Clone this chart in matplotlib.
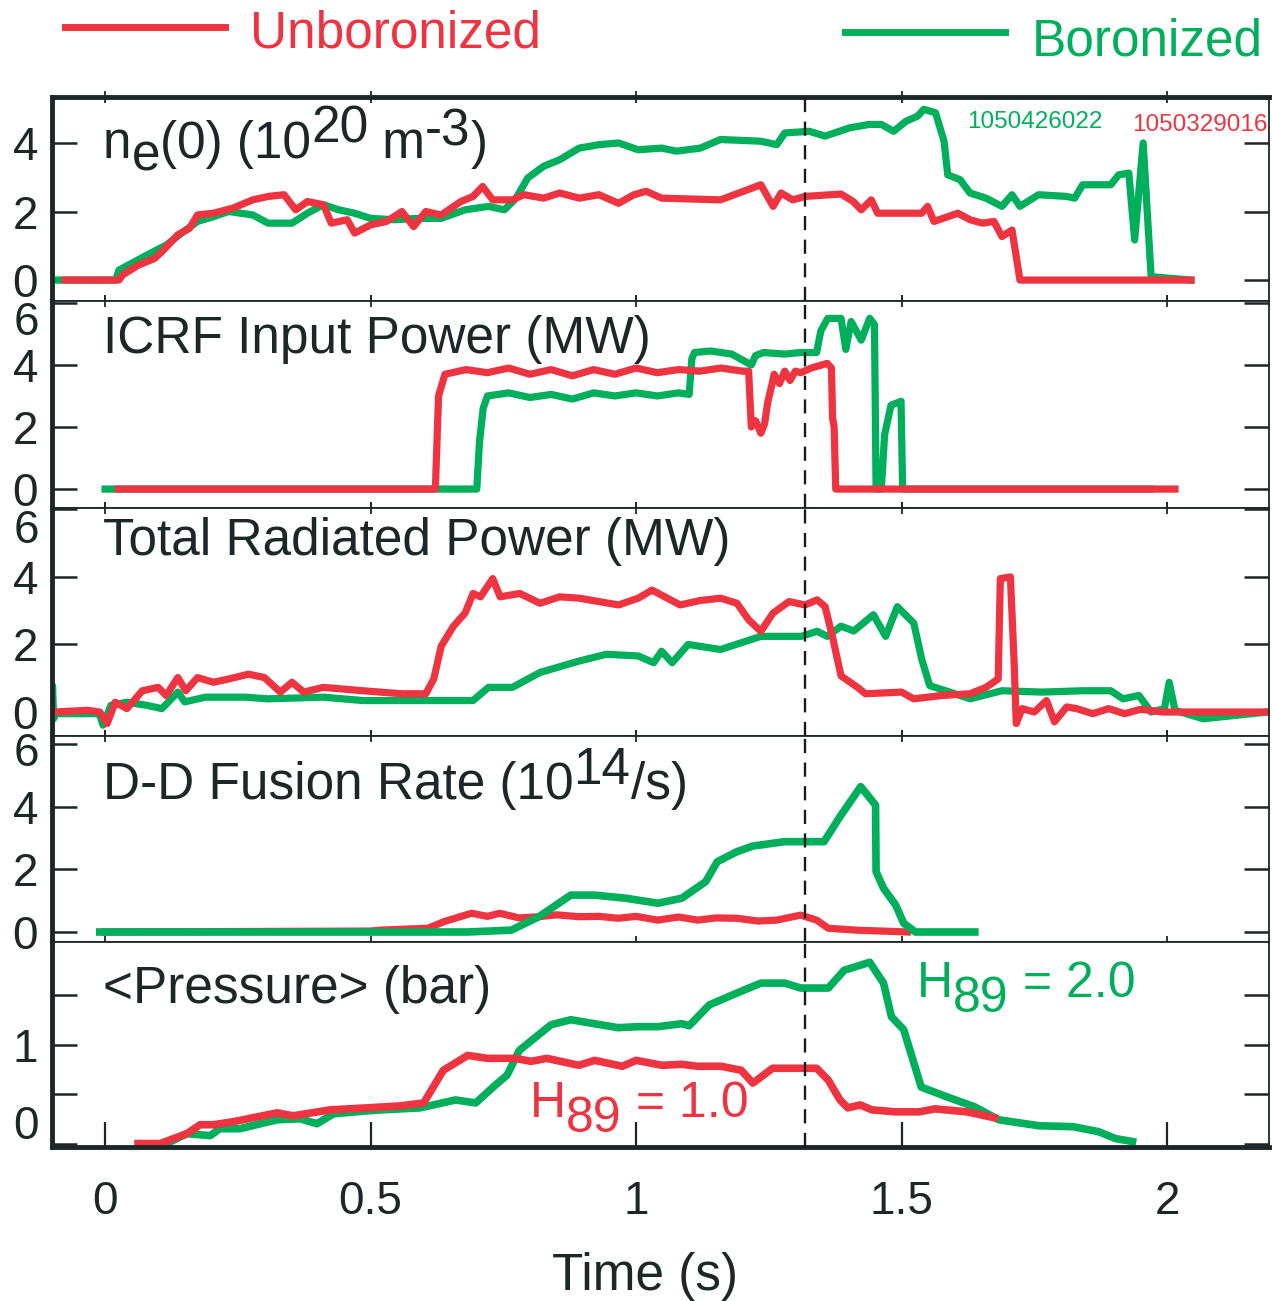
import matplotlib
matplotlib.use("Agg")
import matplotlib.pyplot as plt
from matplotlib.lines import Line2D

plt.rcParams['font.family'] = ['Liberation Sans', 'DejaVu Sans']

RED = '#EE3441'
GREEN = '#00AF5B'
DARK = '#1E2728'

# ---------------- data (time in s) ----------------
# Panel 1: central density n_e(0) (1e20 m^-3)
ne_unb_t = [-0.075, 0.026, 0.033, 0.063, 0.093, 0.107, 0.137, 0.159, 0.174, 0.204, 0.241, 0.278, 0.307,
            0.337, 0.359, 0.381, 0.411, 0.426, 0.456, 0.47, 0.5, 0.53, 0.559, 0.581, 0.604, 0.633, 0.67,
            0.693, 0.711, 0.73, 0.767, 0.789, 0.826, 0.856, 0.893, 0.93, 0.967, 0.996, 1.019, 1.048,
            1.159, 1.235, 1.258, 1.273, 1.295, 1.318, 1.386, 1.409, 1.424, 1.443, 1.455, 1.538, 1.549,
            1.561, 1.606, 1.629, 1.652, 1.674, 1.689, 1.708, 1.723, 2.045]
ne_unb = [0, 0, 0.15, 0.44, 0.63, 0.83, 1.32, 1.51, 1.9, 1.95, 2.1, 2.34, 2.44,
          2.49, 2.05, 2.29, 2.2, 1.66, 1.76, 1.37, 1.61, 1.71, 2.0, 1.56, 2.0, 1.9, 2.29,
          2.44, 2.73, 2.34, 2.34, 2.49, 2.39, 2.54, 2.39, 2.49, 2.24, 2.49, 2.59, 2.39,
          2.34, 2.78, 2.15, 2.54, 2.34, 2.44, 2.51, 2.29, 2.05, 2.34, 1.95, 1.95, 2.15,
          1.71, 1.95, 1.76, 1.66, 1.71, 1.27, 1.46, 0, 0]
ne_bor_t = [-0.1, 0.02, 0.026, 0.056, 0.085, 0.115, 0.144, 0.174, 0.204, 0.233, 0.278, 0.307, 0.352,
            0.381, 0.411, 0.44, 0.47, 0.5, 0.544, 0.589, 0.633, 0.678, 0.722, 0.752, 0.774, 0.796,
            0.826, 0.856, 0.893, 0.93, 0.967, 1.004, 1.048, 1.076, 1.121, 1.159, 1.235, 1.265, 1.28,
            1.326, 1.356, 1.402, 1.439, 1.462, 1.485, 1.508, 1.53, 1.542, 1.564, 1.58, 1.587, 1.61,
            1.629, 1.659, 1.689, 1.708, 1.723, 1.758, 1.811, 1.826, 1.841, 1.894, 1.909, 1.928,
            1.939, 1.955, 1.97, 2.045]
ne_bor = [0, 0, 0.29, 0.54, 0.78, 1.02, 1.37, 1.71, 1.85, 2.0, 1.9, 1.66, 1.66,
          1.95, 2.2, 2.05, 1.95, 1.8, 1.76, 1.8, 1.8, 2.05, 2.15, 2.05, 2.39, 2.98,
          3.32, 3.51, 3.85, 3.95, 4.0, 3.8, 3.85, 3.76, 3.85, 4.1, 4.05, 3.95, 4.29,
          4.34, 4.2, 4.44, 4.54, 4.54, 4.34, 4.63, 4.78, 4.98, 4.88, 4.05, 3.07, 2.93,
          2.54, 2.39, 2.15, 2.49, 2.15, 2.49, 2.44, 2.39, 2.78, 2.78, 3.07, 3.12,
          1.17, 4.0, 0.1, 0]

# Panel 2: ICRF input power (MW)
icrf_unb_t = [0.025, 0.622, 0.628, 0.64, 0.68, 0.72, 0.76, 0.80, 0.84, 0.88, 0.92, 0.96, 1.0, 1.04,
              1.08, 1.12, 1.16, 1.2, 1.212, 1.217, 1.225, 1.235, 1.242, 1.248, 1.255, 1.26, 1.27,
              1.28, 1.29, 1.30, 1.31, 1.33, 1.35, 1.36, 1.368, 1.37, 1.373, 1.376, 2.015]
icrf_unb = [0, 0, 3.0, 3.7, 3.85, 3.75, 3.9, 3.7, 3.85, 3.65, 3.85, 3.7, 3.9, 3.75,
            3.85, 3.8, 3.9, 3.8, 3.8, 2.0, 2.2, 1.8, 2.1, 2.8, 3.3, 3.7, 3.4,
            3.8, 3.5, 3.8, 3.75, 3.9, 4.0, 4.05, 3.9, 2.3, 2.0, 0, 0]
icrf_bor_t = [0.0, 0.70, 0.705, 0.712, 0.72, 0.76, 0.80, 0.84, 0.88, 0.92, 0.96, 1.0, 1.04, 1.08,
              1.10, 1.105, 1.11, 1.14, 1.18, 1.217, 1.225, 1.24, 1.28, 1.31, 1.34, 1.348, 1.361,
              1.386, 1.395, 1.405, 1.424, 1.44, 1.449, 1.452, 1.462, 1.468, 1.48, 1.499, 1.502, 1.97]
icrf_bor = [0, 0, 1.5, 2.6, 3.0, 3.1, 2.95, 3.05, 2.9, 3.1, 3.0, 3.1, 3.0, 3.1,
            3.05, 4.2, 4.4, 4.45, 4.35, 4.0, 4.3, 4.4, 4.35, 4.4, 4.4, 5.1, 5.5,
            5.5, 4.5, 5.4, 4.8, 5.5, 5.3, 0, 0, 1.74, 2.7, 2.83, 0, 0]

# Panel 3: total radiated power (MW)
prad_unb_t = [-0.096, -0.033, -0.01, 0.004, 0.019, 0.041, 0.07, 0.1, 0.115, 0.137, 0.152, 0.174, 0.204,
              0.233, 0.27, 0.3, 0.33, 0.352, 0.374, 0.411, 0.485, 0.559, 0.604, 0.619, 0.633, 0.656,
              0.678, 0.693, 0.707, 0.73, 0.744, 0.781, 0.819, 0.856, 0.893, 0.93, 0.967, 1.004, 1.03,
              1.083, 1.12, 1.159, 1.19, 1.212, 1.235, 1.258, 1.288, 1.318, 1.341, 1.356, 1.371, 1.386,
              1.417, 1.432, 1.5, 1.523, 1.576, 1.629, 1.659, 1.682, 1.686, 1.705, 1.712, 1.716, 1.727,
              1.75, 1.773, 1.788, 1.811, 1.83, 1.86, 1.89, 1.92, 1.95, 1.992, 2.189]
prad_unb = [0, 0.05, 0.0, -0.34, 0.29, 0.1, 0.63, 0.73, 0.49, 1.02, 0.63, 1.02, 0.88,
            0.98, 1.12, 1.02, 0.59, 0.88, 0.59, 0.73, 0.63, 0.54, 0.54, 0.98, 1.95, 2.54,
            2.93, 3.51, 3.41, 3.95, 3.41, 3.51, 3.22, 3.41, 3.37, 3.27, 3.17, 3.37, 3.61,
            3.17, 3.3, 3.37, 3.22, 2.73, 2.39, 2.93, 3.27, 3.17, 3.32, 3.12, 2.15, 1.07,
            0.73, 0.54, 0.59, 0.39, 0.49, 0.54, 0.73, 0.98, 3.95, 4.0, 1.46, -0.34, 0.1,
            0.0, 0.34, -0.29, 0.15, 0.1, -0.05, 0.1, -0.05, 0.08, 0, 0]
prad_bor_t = [-0.1, -0.099, -0.097, -0.093, -0.011, -0.004, 0.011, 0.041, 0.078, 0.107, 0.137, 0.15,
              0.189, 0.263, 0.307, 0.411, 0.485, 0.633, 0.693, 0.722, 0.767, 0.819, 0.893, 0.944,
              1.004, 1.033, 1.048, 1.068, 1.098, 1.159, 1.235, 1.311, 1.341, 1.36, 1.386, 1.41,
              1.447, 1.47, 1.492, 1.523, 1.538, 1.553, 1.583, 1.629, 1.689, 1.765, 1.841, 1.894,
              1.917, 1.947, 1.97, 1.995, 2.004, 2.015, 2.068, 2.189]
prad_bor = [0, 0.78, -0.2, -0.05, -0.05, -0.39, 0.2, 0.29, 0.2, 0.1, 0.59, 0.3,
            0.44, 0.44, 0.39, 0.44, 0.34, 0.34, 0.34, 0.73, 0.73, 1.17, 1.51, 1.71,
            1.66, 1.46, 1.8, 1.46, 2.0, 1.85, 2.24, 2.24, 2.39, 2.24, 2.54, 2.4,
            2.88, 2.24, 3.12, 2.63, 1.56, 0.78, 0.63, 0.39, 0.63, 0.59, 0.63, 0.63,
            0.39, 0.49, 0.0, 0.1, 0.88, 0.05, -0.2, 0]

# Panel 4: D-D fusion rate (1e14 /s)
dd_unb_t = [0.0, 0.5, 0.519, 0.608, 0.638, 0.69, 0.72, 0.743, 0.78, 0.817, 0.85, 0.892, 0.93, 0.966,
            1.0, 1.041, 1.08, 1.116, 1.15, 1.19, 1.23, 1.265, 1.31, 1.34, 1.362, 1.414, 1.511]
dd_unb = [0, 0.03, 0.06, 0.12, 0.33, 0.6, 0.5, 0.6, 0.45, 0.49, 0.55, 0.49, 0.5, 0.44,
          0.5, 0.38, 0.48, 0.38, 0.45, 0.44, 0.35, 0.38, 0.54, 0.38, 0.12, 0.06, 0]
dd_bor_t = [-0.01, 0.683, 0.765, 0.817, 0.877, 0.922, 0.981, 1.041, 1.086, 1.131, 1.153, 1.19, 1.22,
            1.28, 1.354, 1.384, 1.423, 1.451, 1.452, 1.466, 1.489, 1.504, 1.526, 1.638]
dd_bor = [0, 0, 0.06, 0.49, 1.18, 1.18, 1.08, 0.92, 1.08, 1.61, 2.25, 2.57, 2.75,
          2.89, 2.89, 3.69, 4.65, 4.06, 1.93, 1.4, 0.86, 0.28, 0.0, 0.0]

# Panel 5: volume-averaged pressure (bar)
p_unb_t = [0.062, 0.104, 0.154, 0.179, 0.204, 0.241, 0.324, 0.354, 0.424, 0.493, 0.556, 0.6, 0.637,
           0.683, 0.72, 0.772, 0.802, 0.832, 0.892, 0.922, 0.974, 1.0, 1.049, 1.086, 1.116, 1.16,
           1.198, 1.22, 1.257, 1.34, 1.362, 1.384, 1.399, 1.422, 1.444, 1.489, 1.533, 1.563, 1.623, 1.675]
p_unb = [0, 0, 0.1, 0.19, 0.19, 0.22, 0.31, 0.28, 0.34, 0.36, 0.38, 0.41, 0.74,
         0.89, 0.86, 0.86, 0.83, 0.86, 0.79, 0.84, 0.78, 0.84, 0.79, 0.8, 0.78, 0.78,
         0.74, 0.61, 0.76, 0.76, 0.64, 0.44, 0.36, 0.39, 0.34, 0.32, 0.32, 0.35, 0.32, 0.26]
p_bor_t = [0.116, 0.154, 0.198, 0.216, 0.254, 0.324, 0.367, 0.399, 0.43, 0.493, 0.519, 0.593, 0.66,
           0.698, 0.735, 0.757, 0.78, 0.84, 0.877, 0.966, 1.004, 1.041, 1.086, 1.1, 1.138, 1.19,
           1.235, 1.28, 1.31, 1.362, 1.392, 1.44, 1.466, 1.481, 1.504, 1.537, 1.586, 1.638, 1.683,
           1.758, 1.823, 1.871, 1.903, 1.935]
p_bor = [0, 0.1, 0.08, 0.15, 0.15, 0.24, 0.25, 0.2, 0.3, 0.33, 0.34, 0.36, 0.44,
         0.41, 0.59, 0.69, 0.94, 1.2, 1.25, 1.17, 1.18, 1.18, 1.21, 1.19, 1.4, 1.52,
         1.62, 1.62, 1.57, 1.57, 1.75, 1.83, 1.62, 1.28, 1.15, 0.57, 0.47, 0.37, 0.24,
         0.18, 0.17, 0.12, 0.05, 0.02]

t_marker = 1.318
xticks = [0, 0.5, 1, 1.5, 2]
xtick_labels = ['0', '0.5', '1', '1.5', '2']
legend_labels = ['Unboronized', 'Boronized']
shot_labels = ['1050426022', '1050329016']
h89_labels = [' = 2.0', ' = 1.0']

# ---------------- figure ----------------
W, H = 1272, 1301
fig = plt.figure(figsize=(W / 100, H / 100), dpi=100)
left_px, right_px = 52, 1269
rows = [(97, 301), (301, 508), (508, 736), (736, 942), (942, 1147)]
axes = []
for top, bot in rows:
    ax = fig.add_axes([left_px / W, 1 - bot / H, (right_px - left_px) / W, (bot - top) / H])
    axes.append(ax)

ylims = [(-0.61, 5.34), (-0.61, 6.06), (-0.71, 6.04), (-0.32, 6.27), (-0.035, 2.035)]
yticks = [[0, 2, 4], [0, 2, 4, 6], [0, 2, 4, 6], [0, 2, 4, 6], [0, 0.5, 1, 1.5]]
ylabels = [['0', '2', '4'], ['0', '2', '4', ''], ['0', '2', '4', ''], ['0', '2', '4', ''],
           ['', '', '1', '']]
LS = 33

for i, ax in enumerate(axes):
    ax.set_xlim(-0.1, 2.192)
    ax.set_ylim(*ylims[i])
    ax.set_yticks(yticks[i])
    ax.set_yticklabels(ylabels[i])
    ax.set_xticks(xticks)
    ax.tick_params(axis='y', direction='in', length=18, width=1.8, labelsize=LS, pad=10,
                   left=True, right=True, colors=DARK)
    if i < 4:
        ax.tick_params(axis='x', direction='inout', length=8, width=1.3, top=True, bottom=True,
                       labelbottom=False, colors=DARK)
    else:
        ax.tick_params(axis='x', direction='in', length=18, width=1.6, top=False, bottom=True,
                       labelbottom=True, labelsize=LS, pad=24, colors=DARK)
        ax.set_xticklabels(xtick_labels)
    for s in ax.spines.values():
        s.set_linewidth(1.3)
        s.set_color(DARK)
    ax.spines['left'].set_linewidth(3.5)
    ax.axvline(t_marker, color='#1a1a1a', lw=1.7, ls=(0, (6, 4)), zorder=10)

axes[0].spines['top'].set_linewidth(3.5)
axes[4].spines['bottom'].set_linewidth(3.5)

# manual "6" labels (sit a bit below the top edge) and the offset "0" of the pressure panel
for ax, fy in [(axes[1], 0.895), (axes[2], 0.9), (axes[3], 0.915)]:
    ax.text(-0.0105, fy, '6', transform=ax.transAxes, ha='right', va='center', fontsize=LS, color=DARK)
axes[4].text(-0.0105, 0.098, '0', transform=axes[4].transAxes, ha='right', va='center',
             fontsize=LS, color=DARK)

LW = 5.2
axes[0].plot(ne_bor_t, ne_bor, color=GREEN, lw=LW, solid_joinstyle='round')
axes[0].plot(ne_unb_t, ne_unb, color=RED, lw=LW, solid_joinstyle='round')
axes[1].plot(icrf_bor_t, icrf_bor, color=GREEN, lw=LW)
axes[1].plot(icrf_unb_t, icrf_unb, color=RED, lw=LW)
axes[2].plot(prad_bor_t, prad_bor, color=GREEN, lw=LW)
axes[2].plot(prad_unb_t, prad_unb, color=RED, lw=LW)
axes[3].plot(dd_unb_t, dd_unb, color=RED, lw=LW)
axes[3].plot(dd_bor_t, dd_bor, color=GREEN, lw=5.5)
axes[4].plot(p_bor_t, p_bor, color=GREEN, lw=5.5)
axes[4].plot(p_unb_t, p_unb, color=RED, lw=5.5)


def rich(ax, x, y, parts, color, size, transform):
    first = prev = None
    for s, dy in parts:
        if prev is None:
            t = ax.text(x, y, s, transform=transform, fontsize=size, color=color,
                        ha='left', va='baseline', zorder=12)
            first = t
        else:
            t = ax.annotate(s, xy=(1, 0), xycoords=(prev, first), xytext=(0, dy),
                            textcoords='offset points', fontsize=size, color=color,
                            ha='left', va='bottom', zorder=12)
        prev = t


TS = 37
tx = 0.0419
rich(axes[0], tx, 0.701, [('n', 0), ('e', -9), ('(0) (10', 0), ('20', 11), (' m', 0), ('-3', 9), (')', 0)],
     DARK, TS, axes[0].transAxes)
rich(axes[1], tx, 0.749, [('ICRF Input Power (MW)', 0)], DARK, TS, axes[1].transAxes)
rich(axes[2], tx, 0.794, [('Total Radiated Power (MW)', 0)], DARK, TS, axes[2].transAxes)
rich(axes[3], tx, 0.694, [('D-D Fusion Rate (10', 0), ('14', 11), ('/s)', 0)], DARK, TS, axes[3].transAxes)
rich(axes[4], tx, 0.702, [('<Pressure> (bar)', 0)], DARK, TS, axes[4].transAxes)

rich(axes[4], 1.529, 1.48, [('H', 0), ('89', -11), (h89_labels[0], 0)], GREEN, 36, axes[4].transData)
rich(axes[4], 0.80, 0.27, [('H', 0), ('89', -11), (h89_labels[1], 0)], RED, 36, axes[4].transData)

axes[0].text(1.623, 4.44, shot_labels[0], color=GREEN, fontsize=17.5, ha='left', va='baseline')
axes[0].text(1.934, 4.35, shot_labels[1], color=RED, fontsize=17.5, ha='left', va='baseline')

# legend drawn at the top of the figure
fig.add_artist(Line2D([65 / W, 225 / W], [1 - 27 / H, 1 - 27 / H], color=RED, lw=5,
                      transform=fig.transFigure))
fig.add_artist(Line2D([845 / W, 1005 / W], [1 - 32 / H, 1 - 32 / H], color=GREEN, lw=5,
                      transform=fig.transFigure))
fig.text(250 / W, 1 - 48 / H, legend_labels[0], color=RED, fontsize=37, ha='left', va='baseline')
fig.text(1032 / W, 1 - 56 / H, legend_labels[1], color=GREEN, fontsize=37, ha='left', va='baseline')

fig.text(645 / W, 1 - 1290 / H, 'Time (s)', color=DARK, fontsize=37, ha='center', va='baseline')

fig.savefig('out.png', dpi=100)
